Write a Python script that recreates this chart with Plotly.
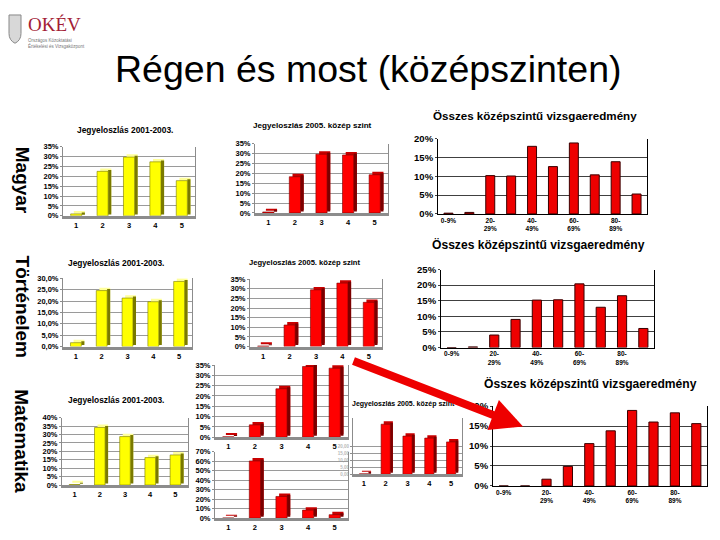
import plotly.graph_objects as go

# a böngésző 8 px-es body margóját levonjuk
OFF = 8
W, H = 720 - 2 * OFF, 540 - 2 * OFF

# --- adatok ---
grades = [1, 2, 3, 4, 5]
bands = list(range(10))
band_ticks = [0, 2, 4, 6, 8]
band_labels = ["0-9%", "20-<br>29%", "40-<br>49%", "60-<br>69%", "80-<br>89%"]

magyar_2001 = [1.0, 22.5, 29.7, 27.3, 17.8]
magyar_2005 = [0.5, 18.3, 29.7, 29.3, 19.3]
magyar_osszes = [0.2, 0.4, 10.2, 10.1, 18.0, 12.6, 18.9, 10.4, 13.9, 5.3]

tort_2001 = [1.7, 24.6, 21.3, 19.7, 28.6]
tort_2005 = [0.3, 11.2, 29.5, 33.0, 23.0]
tort_osszes = [0.0, 0.2, 4.0, 9.0, 15.2, 15.3, 20.4, 12.9, 16.6, 6.1]

mat_2001 = [0.3, 34.2, 28.8, 16.3, 17.9]
mat_2005 = [0.2, 6.0, 23.5, 34.3, 33.5]
mat_2005_b = [0.2, 60.4, 22.9, 8.5, 3.7]
mat_2005_c = [0.3, 35.4, 27.0, 25.6, 22.9]
mat_osszes = [0.0, 0.0, 1.7, 4.9, 10.6, 13.8, 18.9, 16.0, 18.3, 15.6]

FONT = "Liberation Sans, Arial, sans-serif"
YELLOW = ("#ffff00", "#ffff99", "#7a7a00")
RED = ("#ff0000", "#c80000", "#7a0000")

fig = go.Figure()
layout = {}


def px(x, y):
    return (x - OFF) / W, 1 - (y - OFF) / H


def dom(box):
    x0, x1, y0, y1 = box
    a, b = px(x0, y1)
    c, d = px(x1, y0)
    return [a, c], [b, d]


def jegy(n, box, values, colors, ymax, dtick, fmt=".0f", lab="#000", tsize=7.5, tickvals=None):
    """Excel-szerű 3D oszlopdiagram (jegyeloszlás)."""
    xd, yd = dom(box)
    face, top, side = colors
    xa, ya = f"x{n}", f"y{n}"
    depth = 3.0 / (box[3] - box[2]) * ymax
    w, dx = 0.42, 0.12
    common = dict(x=grades, xaxis=xa, yaxis=ya, hoverinfo="skip", showlegend=False)
    fig.add_bar(y=values, base=depth, width=w, offset=-w / 2 + dx,
                marker=dict(color=top, line_width=0), **common)
    fig.add_bar(y=values, base=depth / 2, width=dx, offset=w / 2,
                marker=dict(color=side, line_width=0), **common)
    fig.add_bar(y=values, width=w, offset=-w / 2,
                marker=dict(color=face, line=dict(color=side, width=0.6)), **common)
    layout[f"xaxis{n}"] = dict(
        domain=xd, anchor=ya, range=[0.5, 5.5], tickvals=grades,
        showgrid=False, zeroline=False, showline=True, linecolor="#8c8c8c",
        linewidth=3, ticks="", tickfont=dict(size=7.5, color="#000", weight="bold"))
    ya_cfg = dict(
        domain=yd, anchor=xa, range=[0, ymax], dtick=dtick, tickformat=fmt,
        ticksuffix="%", gridcolor="#9a9a9a", gridwidth=1, zeroline=False,
        showline=True, mirror=True, linecolor="#8c8c8c", linewidth=1,
        ticks="outside", ticklen=2, tickcolor="#8c8c8c",
        tickfont=dict(size=tsize, color=lab, weight="bold"))
    if tickvals is not None:
        ya_cfg.update(tickmode="array", tickvals=tickvals)
    layout[f"yaxis{n}"] = ya_cfg


def osszes(n, box, values, ymax):
    """Összes középszintű vizsgaeredmény - egyszerű oszlopdiagram."""
    xd, yd = dom(box)
    xa, ya = f"x{n}", f"y{n}"
    fig.add_bar(x=bands, y=values, xaxis=xa, yaxis=ya, width=0.43,
                marker=dict(color="#ee0000", line=dict(color="#3a0000", width=1)),
                hoverinfo="skip", showlegend=False)
    layout[f"xaxis{n}"] = dict(
        domain=xd, anchor=ya, range=[-0.5, 9.5], tickvals=band_ticks,
        ticktext=band_labels, showgrid=False, zeroline=False, showline=True,
        linecolor="#000", linewidth=1, ticks="",
        tickfont=dict(size=6.5, color="#000", weight="bold"))
    layout[f"yaxis{n}"] = dict(
        domain=yd, anchor=xa, range=[0, ymax], dtick=5, tickformat=".0f",
        ticksuffix="%", gridcolor="#404040", gridwidth=1, zeroline=False,
        showline=True, mirror=True, linecolor="#000", linewidth=1,
        ticks="outside", ticklen=2,
        tickfont=dict(size=9.5, color="#000", weight="bold"))


# Magyar
jegy(1, (63, 195, 144, 215), magyar_2001, YELLOW, 35, 5)
jegy(2, (255, 388, 141, 212), magyar_2005, RED, 35, 5)
osszes(3, (438, 647, 136, 213), magyar_osszes, 20)
# Történelem
jegy(4, (63, 192, 279, 349), tort_2001, YELLOW, 30, 5, fmt=".1f")
jegy(5, (250, 382, 280, 349), tort_2005, RED, 35, 5)
osszes(6, (441, 654, 270, 350), tort_osszes, 25)
# Matematika
jegy(7, (62, 188, 422, 491), mat_2001, YELLOW, 40, 5)
jegy(8, (353, 462, 422, 480), mat_2005_c, RED, 40, 5, fmt=".2f", lab="#b8b8b8",
     tsize=4.5, tickvals=[0, 5, 10, 15, 20])
jegy(9, (215, 348, 368, 442), mat_2005, RED, 35, 5)
jegy(10, (215, 348, 457, 525), mat_2005_b, RED, 70, 10)
osszes(11, (493, 707, 410, 492), mat_osszes, 20)


def ann(text, x, y, size, bold=True, color="#000", angle=0, family=FONT, xanchor="center"):
    ux, uy = px(x, y)
    return dict(text=text, x=ux, y=uy, xref="paper", yref="paper",
                showarrow=False, textangle=angle, xanchor=xanchor, yanchor="middle",
                align="left", font=dict(size=size, color=color, family=family,
                                        weight="bold" if bold else "normal"))


annotations = [
    ann("Régen és most (középszinten)", 368, 64, 37.5, bold=False),
    ann("Magyar", 22, 178, 19, angle=90),
    ann("Történelem", 22, 308, 19, angle=90),
    ann("Matematika", 22, 446, 19, angle=90),
    ann("Jegyeloszlás 2001-2003.", 125, 127, 8.4),
    ann("Jegyeloszlás 2005. közép szint", 312, 122, 8.1),
    ann("Összes középszintű vizsgaeredmény", 535, 112, 11.6),
    ann("Jegyeloszlás 2001-2003.", 116, 263, 8.4),
    ann("Jegyeloszlás 2005. közép szint", 304, 263, 7.6),
    ann("Összes középszintű vizsgaeredmény", 538, 244, 12.1),
    ann("Jegyeloszlás 2001-2003.", 116, 404, 8.4),
    ann("Jegyeloszlás 2005. közép szint", 350, 408, 7, xanchor="left"),
    ann("Összes középszintű vizsgaeredmény", 590, 387, 12.1),
    ann("OKÉV", 54, 19, 19, bold=False, color="#a31d36",
        family="Liberation Serif, DejaVu Serif, serif"),
    ann("Országos Közoktatási<br>Értékelési és Vizsgaközpont", 26, 38, 4.5,
        bold=False, color="#777", xanchor="left"),
]

# nagy piros nyíl
tx, ty = px(523, 431)
annotations.append(dict(
    x=tx, y=ty, xref="paper", yref="paper",
    ax=-171, ay=-66, axref="pixel", ayref="pixel", text="",
    showarrow=True, arrowhead=2, arrowsize=0.8, arrowwidth=8, arrowcolor="#ee0000"))

# címer helyett egyszerű pajzs
p = [px(9, 9), px(21, 9), px(21, 28), px(21, 35), px(15, 38), px(9, 35), px(9, 28)]
shapes = [
    dict(type="path", xref="paper", yref="paper",
         path=f"M {p[0][0]},{p[0][1]} L {p[1][0]},{p[1][1]} L {p[2][0]},{p[2][1]} "
              f"Q {p[3][0]},{p[3][1]} {p[4][0]},{p[4][1]} Q {p[5][0]},{p[5][1]} {p[6][0]},{p[6][1]} Z",
         fillcolor="#d8d8d8", line=dict(color="#888", width=1)),
]

fig.update_layout(
    **layout,
    annotations=annotations,
    shapes=shapes,
    barmode="overlay",
    separators=",.",
    width=W, height=H,
    margin=dict(l=0, r=0, t=0, b=0),
    paper_bgcolor="#ffffff",
    plot_bgcolor="#ffffff",
    font=dict(family=FONT, color="#000"),
    showlegend=False,
)

fig.write_html("out.html", config={"displayModeBar": False})
